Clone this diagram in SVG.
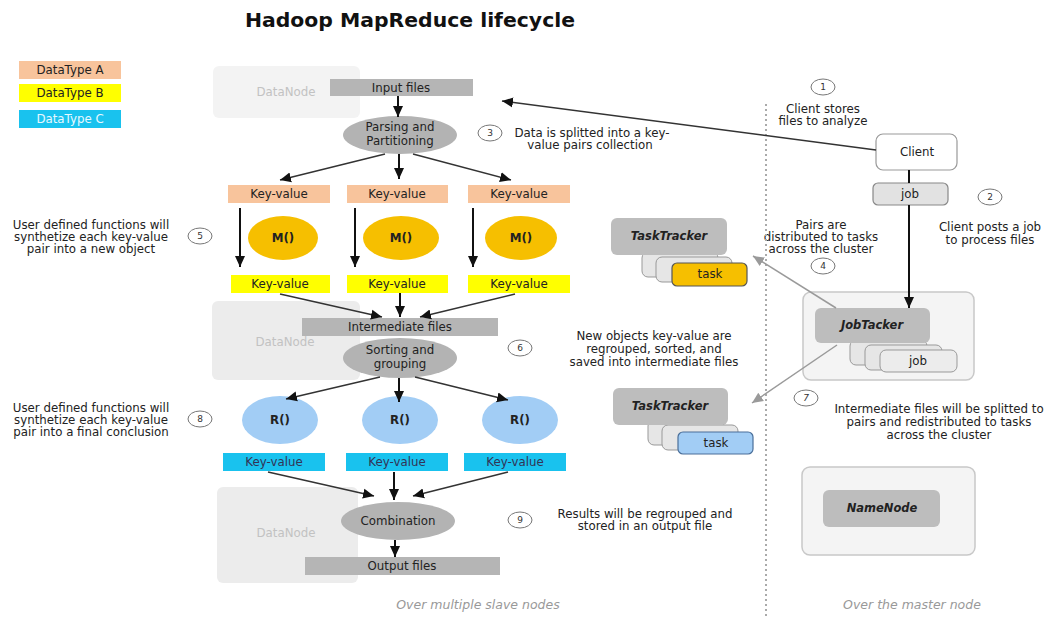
<svg xmlns="http://www.w3.org/2000/svg" width="1047" height="617" viewBox="0 0 1047 617">
<style>
text{font-family:"DejaVu Sans","Liberation Sans",sans-serif;font-size:11.8px;fill:#222;text-anchor:middle}
.title{font-size:20px;font-weight:bold;fill:#111}
.dn{fill:#c2c2c2}
.bi{font-weight:bold;font-style:italic;font-size:11.5px;fill:#222}
.foot{font-style:italic;font-size:12.5px;fill:#999}
.num{font-size:9px;fill:#333}
.kvA{fill:#f8c49c}
.kvB{fill:#ffff00}
.kvC{fill:#19c2ee}
.file{fill:#b5b5b5}
.proc{fill:#b3b3b3}
.map{fill:#f6bf00}
.red{fill:#a2cdf5}
.dnbox{fill:#ececec}
.circ{fill:#fff;stroke:#777;stroke-width:1}
.card{fill:#e6e6e6;stroke:#999;stroke-width:1}
.tt{fill:#bdbdbd}
.outer{fill:#f4f4f4;stroke:#c8c8c8;stroke-width:1.5}
.arr{stroke:#111;stroke-width:2;fill:none;marker-end:url(#ab)}
.arrt{stroke:#333;stroke-width:1.5;fill:none;marker-end:url(#ab)}
.arrg{stroke:#9a9a9a;stroke-width:1.5;fill:none;marker-end:url(#ag)}
</style>
<defs>
<marker id="ab" markerUnits="userSpaceOnUse" markerWidth="12" markerHeight="12" refX="11" refY="6" orient="auto"><path d="M0,1 L11,6 L0,11 z" fill="#111"/></marker>
<marker id="ag" markerUnits="userSpaceOnUse" markerWidth="12" markerHeight="12" refX="11" refY="6" orient="auto"><path d="M0,1 L11,6 L0,11 z" fill="#9a9a9a"/></marker>
</defs>
<rect width="1047" height="617" fill="#fff"/>
<text class="title" x="410" y="27" textLength="330" lengthAdjust="spacingAndGlyphs">Hadoop MapReduce lifecycle</text>

<g id="legend">
<rect class="kvA" x="19" y="61" width="102" height="18"/><text x="70" y="74">DataType A</text>
<rect class="kvB" x="19" y="84" width="102" height="18"/><text x="70" y="97">DataType B</text>
<rect class="kvC" x="19" y="110" width="102" height="18"/><text x="70" y="123" style="fill:#e8f8ff">DataType C</text>
</g>

<g id="datanode1"><rect x="213" y="66" width="147" height="52" rx="6" fill="#f3f3f3"/><text class="dn" x="286" y="96">DataNode</text></g>
<g id="datanode2"><rect class="dnbox" x="212" y="301" width="148" height="79" rx="6"/><text class="dn" x="285" y="346">DataNode</text></g>
<g id="datanode3"><rect class="dnbox" x="217" y="487" width="141" height="96" rx="6"/><text class="dn" x="286" y="537">DataNode</text></g>

<g id="input"><rect class="file" x="330" y="79" width="143" height="17"/><text x="401" y="92">Input files</text></g>
<g id="parsing"><ellipse class="proc" cx="400" cy="135" rx="57" ry="19"/><text x="400" y="131">Parsing and</text><text x="400" y="145">Partitioning</text></g>

<g id="kvA1"><rect class="kvA" x="228" y="185" width="102" height="18"/><text x="279" y="198">Key-value</text></g>
<g id="kvA2"><rect class="kvA" x="347" y="185" width="101" height="18"/><text x="397" y="198">Key-value</text></g>
<g id="kvA3"><rect class="kvA" x="468" y="185" width="102" height="18"/><text x="519" y="198">Key-value</text></g>

<g id="map1"><ellipse class="map" cx="283" cy="238" rx="35" ry="22"/><text x="283" y="242" style="font-weight:bold">M()</text></g>
<g id="map2"><ellipse class="map" cx="401" cy="238" rx="38" ry="22"/><text x="401" y="242" style="font-weight:bold">M()</text></g>
<g id="map3"><ellipse class="map" cx="521" cy="238" rx="36" ry="22"/><text x="521" y="242" style="font-weight:bold">M()</text></g>

<g id="kvB1"><rect class="kvB" x="231" y="275" width="99" height="18"/><text x="280" y="288">Key-value</text></g>
<g id="kvB2"><rect class="kvB" x="347" y="275" width="101" height="18"/><text x="397" y="288">Key-value</text></g>
<g id="kvB3"><rect class="kvB" x="468" y="275" width="102" height="18"/><text x="519" y="288">Key-value</text></g>

<g id="intermediate"><rect class="file" x="302" y="318" width="196" height="18"/><text x="400" y="331">Intermediate files</text></g>
<g id="sorting"><ellipse class="proc" cx="400" cy="358" rx="57" ry="20"/><text x="400" y="354">Sorting and</text><text x="400" y="368">grouping</text></g>

<g id="red1"><ellipse class="red" cx="280" cy="420" rx="38" ry="24"/><text x="280" y="424" style="font-weight:bold">R()</text></g>
<g id="red2"><ellipse class="red" cx="400" cy="420" rx="38" ry="24"/><text x="400" y="424" style="font-weight:bold">R()</text></g>
<g id="red3"><ellipse class="red" cx="520" cy="420" rx="38" ry="24"/><text x="520" y="424" style="font-weight:bold">R()</text></g>

<g id="kvC1"><rect class="kvC" x="223" y="453" width="102" height="18"/><text x="274" y="466" style="fill:#335">Key-value</text></g>
<g id="kvC2"><rect class="kvC" x="346" y="453" width="102" height="18"/><text x="397" y="466" style="fill:#335">Key-value</text></g>
<g id="kvC3"><rect class="kvC" x="464" y="453" width="102" height="18"/><text x="515" y="466" style="fill:#335">Key-value</text></g>

<g id="combination"><ellipse class="proc" cx="398" cy="521" rx="57" ry="19"/><text x="398" y="525">Combination</text></g>
<g id="output"><rect class="file" x="305" y="557" width="195" height="18"/><text x="402" y="570">Output files</text></g>

<g id="notes">
<text x="91" y="229">User defined functions will</text>
<text x="91" y="241">synthetize each key-value</text>
<text x="91" y="253">pair into a new object</text>
<ellipse class="circ" cx="200" cy="236" rx="12" ry="8"/><text class="num" x="200" y="239">5</text>
<text x="91" y="412">User defined functions will</text>
<text x="91" y="424">synthetize each key-value</text>
<text x="91" y="436">pair into a final conclusion</text>
<ellipse class="circ" cx="200" cy="419" rx="12" ry="8"/><text class="num" x="200" y="422">8</text>
<ellipse class="circ" cx="490" cy="133" rx="12" ry="8"/><text class="num" x="490" y="136">3</text>
<text x="592" y="137">Data is splitted into a key-</text>
<text x="590" y="149">value pairs collection</text>
<ellipse class="circ" cx="520" cy="348" rx="12" ry="8"/><text class="num" x="520" y="351">6</text>
<text x="654" y="340">New objects key-value are</text>
<text x="654" y="353">regrouped, sorted, and</text>
<text x="654" y="366">saved into intermediate files</text>
<ellipse class="circ" cx="520" cy="520" rx="12" ry="8"/><text class="num" x="520" y="523">9</text>
<text x="645" y="518">Results will be regrouped and</text>
<text x="645" y="530">stored in an output file</text>
<ellipse class="circ" cx="823" cy="87" rx="12" ry="8"/><text class="num" x="823" y="90">1</text>
<text x="823" y="113">Client stores</text>
<text x="823" y="125">files to analyze</text>
<ellipse class="circ" cx="990" cy="197" rx="12" ry="8"/><text class="num" x="990" y="200">2</text>
<text x="990" y="231">Client posts a job</text>
<text x="990" y="244">to process files</text>
<text x="821" y="229">Pairs are</text>
<text x="821" y="241">distributed to tasks</text>
<text x="821" y="253">across the cluster</text>
<ellipse class="circ" cx="823" cy="266" rx="12" ry="8"/><text class="num" x="823" y="269">4</text>
<ellipse class="circ" cx="806" cy="398" rx="12" ry="8"/><text class="num" x="806" y="401" style="font-style:italic">7</text>
<text x="939" y="413">Intermediate files will be splitted to</text>
<text x="939" y="426">pairs and redistributed to tasks</text>
<text x="939" y="439">across the cluster</text>
<text class="foot" x="478" y="609">Over multiple slave nodes</text>
<text class="foot" x="912" y="609">Over the master node</text>
</g>

<line x1="766" y1="104" x2="766" y2="617" stroke="#aaa" stroke-width="2" stroke-dasharray="2,3"/>

<g id="client"><rect x="876" y="134" width="81" height="36" rx="7" fill="#fff" stroke="#999" stroke-width="1.2"/><text x="917" y="156">Client</text></g>
<g id="job"><rect x="873" y="183" width="75" height="22" rx="5" fill="#e2e2e2" stroke="#888" stroke-width="1.2"/><text x="910" y="198">job</text></g>

<g id="tasktracker1">
<rect class="card" x="642" y="252" width="76" height="25" rx="6"/>
<rect class="card" x="656" y="257" width="76" height="25" rx="6"/>
<rect x="672" y="263" width="75" height="23" rx="5" fill="#f6bf00" stroke="#555" stroke-width="1.2"/>
<text x="710" y="278">task</text>
<rect class="tt" x="611" y="218" width="116" height="37" rx="6"/>
<text class="bi" x="669" y="240">TaskTracker</text>
</g>

<g id="tasktracker2">
<rect class="card" x="648" y="420" width="76" height="25" rx="6"/>
<rect class="card" x="662" y="425" width="76" height="25" rx="6"/>
<rect x="678" y="432" width="75" height="22" rx="5" fill="#a2cdf5" stroke="#4a6f9a" stroke-width="1.2"/>
<text x="716" y="447">task</text>
<rect class="tt" x="613" y="388" width="115" height="37" rx="6"/>
<text class="bi" x="670" y="410">TaskTracker</text>
</g>

<g id="jobtracker">
<rect class="outer" x="803" y="292" width="171" height="88" rx="8"/>
<rect class="card" x="850" y="340" width="77" height="25" rx="6"/>
<rect class="card" x="865" y="345" width="77" height="25" rx="6"/>
<rect x="880" y="350" width="77" height="22" rx="6" fill="#ececec" stroke="#999" stroke-width="1"/>
<text x="918" y="365">job</text>
<rect class="tt" x="815" y="308" width="115" height="35" rx="6"/>
<text class="bi" x="872" y="329">JobTacker</text>
</g>

<g id="namenode">
<rect class="outer" x="802" y="467" width="173" height="88" rx="8"/>
<rect class="tt" x="823" y="490" width="117" height="37" rx="6"/>
<text class="bi" x="882" y="512">NameNode</text>
</g>

<g id="connectors">
<line class="arr" x1="398" y1="96" x2="398" y2="117"/>
<line class="arrt" x1="385" y1="154" x2="280" y2="180"/>
<line class="arr" x1="399" y1="154" x2="399" y2="179"/>
<line class="arrt" x1="413" y1="154" x2="511" y2="180"/>
<line class="arr" x1="240" y1="208" x2="240" y2="267"/>
<line class="arr" x1="355" y1="208" x2="355" y2="267"/>
<line class="arr" x1="473" y1="208" x2="473" y2="267"/>
<line class="arrt" x1="280" y1="294" x2="382" y2="317"/>
<line class="arr" x1="400" y1="293" x2="400" y2="317"/>
<line class="arrt" x1="515" y1="294" x2="420" y2="317"/>
<line class="arrt" x1="380" y1="377" x2="286" y2="399"/>
<line class="arr" x1="399" y1="378" x2="399" y2="402"/>
<line class="arrt" x1="415" y1="377" x2="508" y2="400"/>
<line class="arrt" x1="268" y1="472" x2="374" y2="496"/>
<line class="arr" x1="394" y1="472" x2="394" y2="500"/>
<line class="arrt" x1="508" y1="472" x2="413" y2="496"/>
<line class="arr" x1="395" y1="540" x2="395" y2="557"/>
<line class="arrt" x1="876" y1="150" x2="502" y2="101"/>
<line stroke="#111" stroke-width="2" x1="909" y1="170" x2="909" y2="183"/>
<line class="arr" x1="909" y1="205" x2="909" y2="308"/>
<line class="arrg" x1="836" y1="308" x2="753" y2="256"/>
<line class="arrg" x1="837" y1="345" x2="752" y2="403"/>
</g>
</svg>
